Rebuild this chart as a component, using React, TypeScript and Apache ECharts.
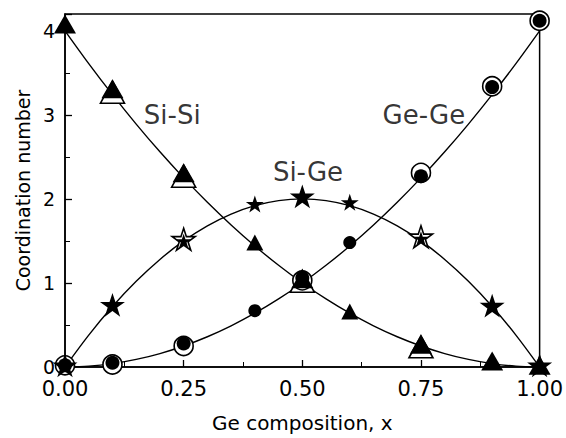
import React, { useEffect, useRef } from "react";
import * as echarts from "echarts";

// Data
const xsAll = [0, 0.1, 0.25, 0.4, 0.5, 0.6, 0.75, 0.9, 1.0];
const siSiFilled = [4.08, 3.31, 2.31, 1.48, 1.05, 0.66, 0.27, 0.07, 0.02];
const siSiOpenX = [0.1, 0.25, 0.5, 0.75];
const siSiOpen = [3.27, 2.27, 1.02, 0.24];
const geGeFilled = [0.02, 0.05, 0.28, 0.67, 1.06, 1.48, 2.27, 3.33, 4.12];
const geGeOpenX = [0, 0.1, 0.25, 0.5, 0.75, 0.9, 1.0];
const geGeOpen = [0.02, 0.03, 0.25, 1.03, 2.31, 3.34, 4.12];
const siGeFilled = [0.02, 0.74, 1.5, 1.94, 2.03, 1.96, 1.53, 0.73, 0.02];
const siGeOpenX = [0.25, 0.75];
const siGeOpen = [1.52, 1.55];
const smallIdx = [3, 5]; // x = 0.4 and 0.6 drawn with smaller markers

// fitted curves
const curveX = [0, 0.05, 0.1, 0.15, 0.2, 0.25, 0.3, 0.35, 0.4, 0.45, 0.5, 0.55, 0.6, 0.65, 0.7, 0.75, 0.8, 0.85, 0.9, 0.95, 1.0];
const siSiCurve = [4.0, 3.61, 3.24, 2.89, 2.56, 2.25, 1.96, 1.69, 1.44, 1.21, 1.0, 0.81, 0.64, 0.49, 0.36, 0.25, 0.16, 0.09, 0.04, 0.01, 0.0];
const geGeCurve = [0.0, 0.01, 0.04, 0.09, 0.16, 0.25, 0.36, 0.49, 0.64, 0.81, 1.0, 1.21, 1.44, 1.69, 1.96, 2.25, 2.56, 2.89, 3.24, 3.61, 4.0];
const siGeCurve = [0.0, 0.38, 0.72, 1.02, 1.28, 1.5, 1.68, 1.82, 1.92, 1.98, 2.0, 1.98, 1.92, 1.82, 1.68, 1.5, 1.28, 1.02, 0.72, 0.38, 0.0];

const labelNames = ["Si-Si", "Ge-Ge", "Si-Ge"];
const labelX = [0.226, 0.756, 0.512];
const labelY = [3.0, 3.0, 2.32];

const xTicks = [0, 0.25, 0.5, 0.75, 1.0];
const yTicks = [0, 1, 2, 3, 4];

const FONT = "DejaVu Sans";
const STAR =
  "path://M50 0 L61.23 34.55 L97.55 34.55 L68.17 55.9 L79.39 90.45 L50 69.1 L20.61 90.45 L31.83 55.9 L2.45 34.55 L38.77 34.55 Z";

export default function App() {
  const ref = useRef<HTMLDivElement>(null);
  useEffect(() => {
    if (!ref.current) return;
    const chart = echarts.init(ref.current, null, { renderer: "svg" });

    const curve = (ys: number[]) => ({
      type: "line",
      data: curveX.map((x, i) => [x, ys[i]]),
      smooth: 0.3,
      showSymbol: false,
      symbol: "none",
      lineStyle: { color: "#000", width: 1.4 },
      silent: true,
      z: 1,
    });

    const openSeries = (xs: number[], ys: number[], symbol: string, size: any) => ({
      type: "scatter",
      data: xs.map((x, i) => [x, ys[i]]),
      symbol,
      symbolSize: size,
      symbolKeepAspect: true,
      itemStyle: { color: "#fff", borderColor: "#000", borderWidth: 1.6, opacity: 1 },
      z: 2,
    });

    const filledSeries = (ys: number[], symbol: string, big: any, small: any) => ({
      type: "scatter",
      data: xsAll.map((x, i) => ({
        value: [x, ys[i]],
        symbolSize: smallIdx.includes(i) ? small : big,
      })),
      symbol,
      symbolKeepAspect: true,
      itemStyle: { color: "#000", opacity: 1 },
      z: 3,
    });

    chart.setOption({
      animation: false,
      backgroundColor: "#fff",
      grid: {
        left: 65,
        right: 26,
        top: 14,
        bottom: 66,
        show: true,
        borderColor: "#000",
        borderWidth: 1.5,
      },
      xAxis: {
        type: "value",
        min: 0,
        max: 1,
        interval: 0.25,
        name: "Ge composition, x",
        nameLocation: "middle",
        nameGap: 46,
        nameTextStyle: { fontFamily: FONT, fontSize: 20, color: "#000" },
        axisLine: { show: true, lineStyle: { color: "#000", width: 1.5 } },
        axisTick: { show: true, inside: true, length: 7, lineStyle: { color: "#000", width: 1.3 } },
        minorTick: { show: true, splitNumber: 2, length: 5, lineStyle: { color: "#000", width: 1 } },
        splitLine: { show: false },
        axisLabel: {
          margin: 11,
          fontFamily: FONT,
          fontSize: 21,
          color: "#000",
          formatter: (v: number) => (xTicks.includes(Math.round(v * 100) / 100) ? v.toFixed(2) : ""),
        },
      },
      yAxis: {
        type: "value",
        min: 0,
        max: 4.2,
        interval: 1,
        name: "Coordination number",
        nameLocation: "middle",
        nameGap: 32,
        nameTextStyle: { fontFamily: FONT, fontSize: 19, color: "#000" },
        axisLine: { show: true, lineStyle: { color: "#000", width: 1.5 } },
        axisTick: { show: true, inside: true, length: 7, lineStyle: { color: "#000", width: 1.3 } },
        minorTick: { show: true, splitNumber: 2, length: 5, lineStyle: { color: "#000", width: 1 } },
        splitLine: { show: false },
        axisLabel: {
          margin: 10,
          fontFamily: FONT,
          fontSize: 19,
          color: "#000",
          formatter: (v: number) => (yTicks.includes(v) ? String(v) : ""),
        },
      },
      series: [
        curve(siSiCurve),
        curve(geGeCurve),
        curve(siGeCurve),
        openSeries(siSiOpenX, siSiOpen, "triangle", [24, 22]),
        openSeries(geGeOpenX, geGeOpen, "circle", 19),
        openSeries(siGeOpenX, siGeOpen, STAR, 23),
        filledSeries(siSiFilled, "triangle", [22, 19], [17, 16]),
        filledSeries(geGeFilled, "circle", 14, 13),
        {
          type: "scatter",
          data: xsAll.map((x, i) => ({
            value: [x, siGeFilled[i]],
            symbolSize: siGeOpenX.includes(x) ? 15 : smallIdx.includes(i) ? 18 : 25,
          })),
          symbol: STAR,
          symbolKeepAspect: true,
          itemStyle: { color: "#000", opacity: 1 },
          z: 3,
        },
        {
          type: "scatter",
          data: labelNames.map((n, i) => ({ value: [labelX[i], labelY[i]], name: n })),
          symbolSize: 1,
          itemStyle: { color: "rgba(0,0,0,0)" },
          label: {
            show: true,
            position: "inside",
            formatter: (p: any) => p.name,
            fontFamily: FONT,
            fontSize: 26,
            color: "#000",
          },
          silent: true,
          z: 4,
        },
      ],
    });
    return () => chart.dispose();
  }, []);
  return <div ref={ref} style={{ width: 566, height: 438, position: "absolute", left: 0, top: 0 }} />;
}
